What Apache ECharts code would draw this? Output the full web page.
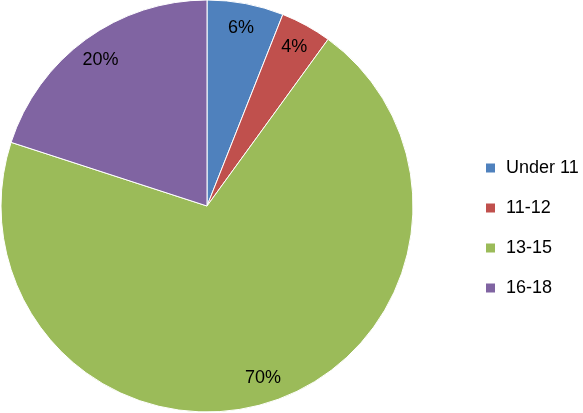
<!DOCTYPE html>
<html>
<head>
<meta charset="utf-8">
<script src="https://cdn.jsdelivr.net/npm/echarts@6/dist/echarts.min.js"></script>
<style>
  html, body { margin: 0; padding: 0; background: #fff; }
  #chart { width: 583px; height: 413px; }
</style>
</head>
<body>
<div id="chart"></div>
<script>
const categories = ['Under 11', '11-12', '13-15', '16-18']
const shares = [6, 4, 70, 20]
const colors = ['#4F81BD', '#C0504D', '#9BBB59', '#8064A2']

const pieData = categories.map((name, i) => ({
  name: name,
  value: shares[i],
  itemStyle: { color: colors[i] }
}))

const chart = echarts.init(document.getElementById('chart'))
chart.setOption({
  animation: false,
  legend: {
    orient: 'vertical',
    left: 479,
    top: 154,
    itemWidth: 11,
    itemHeight: 11,
    itemGap: 22,
    icon: 'rect',
    textStyle: { fontFamily: 'Liberation Sans', fontSize: 18, color: '#000', padding: [0, 0, 0, 5] },
    data: categories
  },
  series: [
    {
      // slices
      type: 'pie',
      center: [207, 206],
      radius: [0, 206],
      startAngle: 90,
      clockwise: true,
      silent: true,
      itemStyle: { borderColor: '#fff', borderWidth: 1 },
      label: { show: false },
      labelLine: { show: false },
      data: pieData
    },
    {
      // transparent ring carrying the percent labels
      type: 'pie',
      center: [207, 206],
      radius: [150, 206],
      startAngle: 90,
      clockwise: true,
      silent: true,
      legendHoverLink: false,
      itemStyle: { color: 'transparent', borderWidth: 0 },
      label: {
        show: true,
        position: 'inside',
        formatter: '{c}%',
        fontFamily: 'Liberation Sans',
        fontSize: 18,
        color: '#000'
      },
      labelLine: { show: false },
      data: categories.map((name, i) => ({ name: name, value: shares[i] }))
    }
  ]
})
</script>
</body>
</html>
